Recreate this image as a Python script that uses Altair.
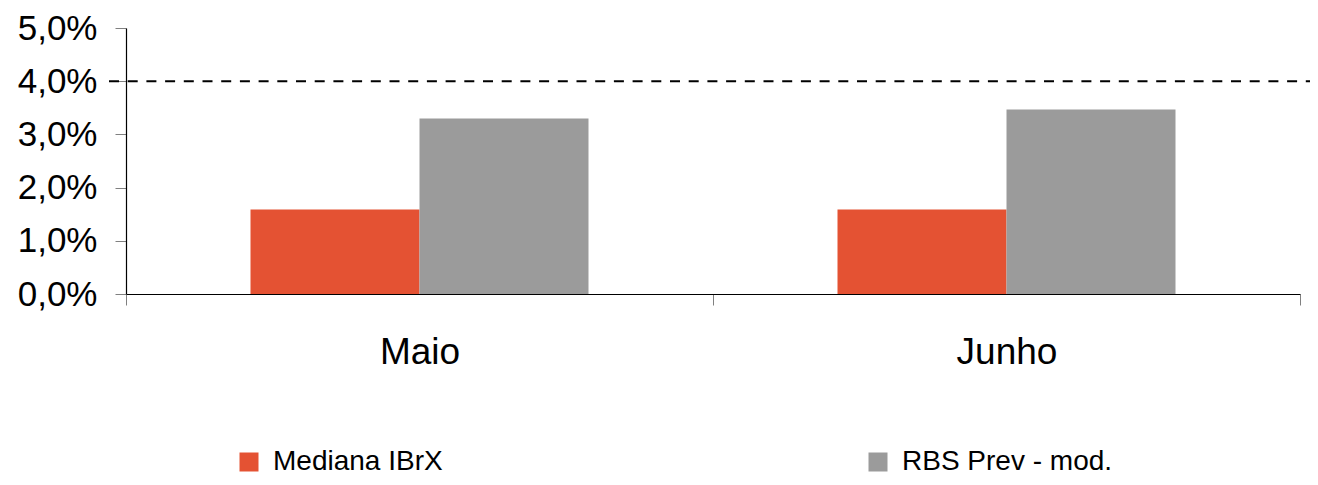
import altair as alt
import pandas as pd

months = ["Maio", "Junho"]
series = ["Mediana IBrX", "RBS Prev - mod."]
mediana = [0.0159, 0.0159]
rbs = [0.0330, 0.0347]
target = [0.04]
y_ticks = [0.0, 0.01, 0.02, 0.03, 0.04, 0.05]

rows = []
for i, m in enumerate(months):
    rows.append({"Mes": m, "Serie": series[0], "Valor": mediana[i]})
    rows.append({"Mes": m, "Serie": series[1], "Valor": rbs[i]})
df = pd.DataFrame(rows)
df_t = pd.DataFrame({"meta": target})

FONT = "Liberation Sans"

bars = alt.Chart(df).mark_bar(strokeWidth=0).encode(
    x=alt.X("Mes:N", sort=months, title=None,
            scale=alt.Scale(paddingInner=0, paddingOuter=0),
            axis=alt.Axis(labelAngle=0, tickBand="extent", labelFontSize=37,
                          labelFont=FONT, labelColor="black", labelPadding=29,
                          tickSize=11, tickColor="#808080", domainColor="black",
                          domainWidth=1.2)),
    xOffset=alt.XOffset("Serie:N", sort=series,
                        scale=alt.Scale(paddingInner=0, paddingOuter=0.7367)),
    y=alt.Y("Valor:Q", title=None,
            scale=alt.Scale(domain=[0, 0.05], nice=False),
            axis=alt.Axis(values=y_ticks, grid=False,
                          labelExpr="replace(format(datum.value, '.1%'), '.', ',')",
                          labelFontSize=35, labelFont=FONT, labelColor="black",
                          labelPadding=18, tickSize=11, tickColor="#808080",
                          domainColor="black", domainWidth=1.2)),
    color=alt.Color("Serie:N", sort=series,
                    scale=alt.Scale(domain=series, range=["#E45233", "#9B9B9B"]),
                    legend=alt.Legend(title=None, orient="none", direction="horizontal",
                                      columns=2, legendX=109, legendY=420,
                                      symbolType="square", symbolSize=361,
                                      symbolStrokeWidth=0, labelFontSize=28,
                                      labelFont=FONT, labelColor="black",
                                      labelOffset=10, columnPadding=421,
                                      labelLimit=400)),
)

rule = alt.Chart(df_t).mark_rule(color="black", strokeWidth=2, strokeDash=[10, 8.7]).encode(
    y=alt.Y("meta:Q"),
    x=alt.value(-17),
    x2=alt.value(1190),
)

chart = alt.layer(bars, rule).properties(
    width=1174, height=266,
    autosize=alt.AutoSizeParams(type="none"),
    padding={"left": 118, "top": 20, "right": 10, "bottom": 183},
).configure_view(stroke=None)

chart.save("out.html", embed_options={"renderer": "svg", "actions": False})
